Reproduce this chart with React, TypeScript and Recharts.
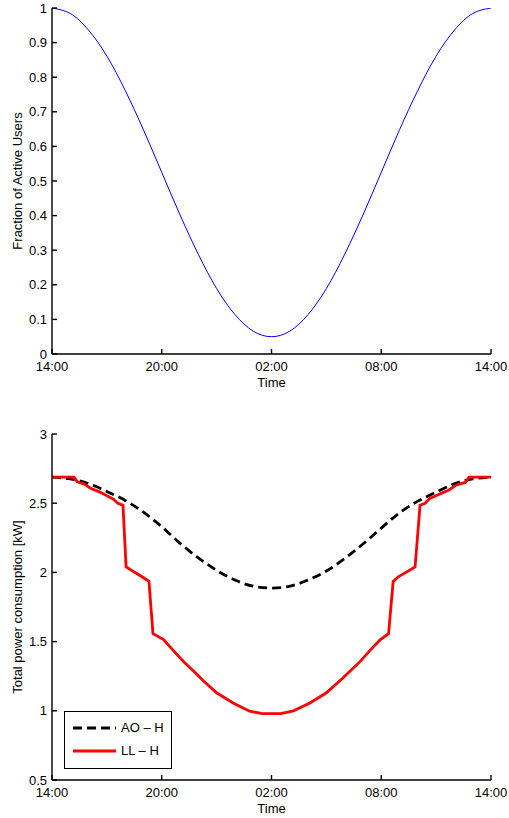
import React from 'react'
import { LineChart, Line, XAxis, YAxis, Legend } from 'recharts'

// x axis: hours since 14:00
const timeTicks = [0, 6, 12, 18, 24]
const timeLabels = ['14:00', '20:00', '02:00', '08:00', '14:00']

// top panel: fraction of active users
const userHours = [0, 1, 2, 3, 4, 5, 6, 7, 8, 9, 10, 11, 12, 13, 14, 15, 16, 17, 18, 19, 20, 21, 22, 23, 24]
const activeUsers = [
  1, 0.984, 0.936, 0.861, 0.762, 0.648, 0.525, 0.402, 0.288, 0.189, 0.114, 0.066, 0.05,
  0.066, 0.114, 0.189, 0.288, 0.402, 0.525, 0.648, 0.762, 0.861, 0.936, 0.984, 1,
]
const fractionTicks = [0, 0.1, 0.2, 0.3, 0.4, 0.5, 0.6, 0.7, 0.8, 0.9, 1]

// bottom panel: total power consumption [kW]
const aoHours = [0, 1, 2, 3, 4, 5, 6, 7, 8, 9, 10, 11, 12, 13, 14, 15, 16, 17, 18, 19, 20, 21, 22, 23, 24]
const aoPower = [
  2.688, 2.676, 2.642, 2.585, 2.52, 2.435, 2.33, 2.21, 2.105, 2.015, 1.945, 1.9, 1.887,
  1.9, 1.945, 2.01, 2.1, 2.205, 2.32, 2.43, 2.515, 2.58, 2.64, 2.675, 2.688,
]
const llHours = [
  0, 1.2, 1.38, 1.75, 2.08, 2.62, 3.35, 3.6, 3.88, 4.05, 4.9, 5.3, 5.52, 6.1, 6.6, 7.2,
  7.75, 8.3, 9.0, 9.9, 10.8, 11.5, 12.5, 13.2, 14.1, 15.0, 15.9, 16.85, 17.55, 17.95,
  18.4, 18.65, 18.95, 19.85, 20.12, 20.4, 20.65, 21.7, 22.1, 22.6, 22.8, 24,
]
const llPower = [
  2.688, 2.688, 2.655, 2.64, 2.61, 2.58, 2.53, 2.5, 2.485, 2.04, 1.97, 1.935, 1.557, 1.515,
  1.44, 1.355, 1.285, 1.213, 1.13, 1.057, 0.997, 0.98, 0.98, 1.0, 1.057, 1.13, 1.237,
  1.357, 1.46, 1.514, 1.557, 1.935, 1.97, 2.04, 2.485, 2.5, 2.535, 2.596, 2.632, 2.65,
  2.688, 2.688,
]
const powerTicks = [0.5, 1, 1.5, 2, 2.5, 3]

const seriesNames = ['AO – H', 'LL – H']
const seriesColors = ['#000000', '#ff0000']
const seriesDash = ['9 5', undefined]

const userData = userHours.map((t, i) => ({ t, v: activeUsers[i] }))
const aoData = aoHours.map((t, i) => ({ t, v: aoPower[i] }))
const llData = llHours.map((t, i) => ({ t, v: llPower[i] }))

const FONT = '"Liberation Sans", Arial, Helvetica, sans-serif'
const W = 509
const H = 392
const MARGIN = { top: 8, right: 18, bottom: 0, left: 0 }
const tickStyle = { fill: '#000', fontSize: 13, fontFamily: FONT }
const axisStroke = { stroke: '#000', strokeWidth: 1.4 }

const yTitle = (text: string) => (props: any) => {
  const vb = props.viewBox || { x: 0, y: 8, width: 52, height: 346 }
  const cx = vb.x + 17
  const cy = vb.y + vb.height / 2
  return (
    <text
      x={cx}
      y={cy}
      transform={`rotate(-90 ${cx} ${cy})`}
      textAnchor="middle"
      dominantBaseline="central"
      fontSize={13}
      fontFamily={FONT}
      fill="#000"
    >
      {text}
    </text>
  )
}

const xTitle = (props: any) => {
  const vb = props.viewBox || { x: 52, y: 354, width: 439, height: 38 }
  return (
    <text
      x={vb.x + vb.width / 2}
      y={vb.y + 33}
      textAnchor="middle"
      fontSize={13}
      fontFamily={FONT}
      fill="#000"
    >
      Time
    </text>
  )
}

// matlab style box with inward ticks on all four sides
function renderAxes(yDomain: number[], yTicks: number[], title: string) {
  return [
    <XAxis
      key="xb"
      dataKey="t"
      type="number"
      domain={[0, 24]}
      ticks={timeTicks}
      tickFormatter={(v: number) => timeLabels[timeTicks.indexOf(v)]}
      height={38}
      tickSize={-5}
      tickMargin={13}
      tick={tickStyle}
      axisLine={axisStroke}
      tickLine={axisStroke}
      allowDataOverflow
      label={{ content: xTitle }}
    />,
    <XAxis
      key="xt"
      xAxisId="top"
      orientation="top"
      dataKey="t"
      type="number"
      domain={[0, 24]}
      ticks={timeTicks}
      tickFormatter={() => ''}
      height={0}
      tickSize={-5}
      axisLine={axisStroke}
      tickLine={axisStroke}
    />,
    <YAxis
      key="yl"
      type="number"
      domain={yDomain}
      ticks={yTicks}
      width={52}
      tickSize={-5}
      tickMargin={10}
      tick={tickStyle}
      axisLine={axisStroke}
      tickLine={axisStroke}
      allowDataOverflow
      label={{ content: yTitle(title) }}
    />,
    <YAxis
      key="yr"
      yAxisId="right"
      orientation="right"
      type="number"
      domain={yDomain}
      ticks={yTicks}
      tickFormatter={() => ''}
      width={0}
      tickSize={-5}
      axisLine={axisStroke}
      tickLine={axisStroke}
    />,
  ]
}

function PowerLegend({ payload }: any) {
  const items = payload && payload.length ? payload : seriesNames.map((n, i) => ({ value: n, color: seriesColors[i] }))
  return (
    <div
      style={{
        width: 106,
        height: 52,
        border: '1.4px solid #000',
        background: '#fff',
        paddingTop: 4,
        boxSizing: 'content-box',
        fontFamily: FONT,
        fontSize: 13,
        color: '#000',
      }}
    >
      {items.map((entry: any, index: number) => {
        const i = seriesNames.indexOf(entry.value)
        return (
          <div key={`legend-${index}`} style={{ display: 'flex', alignItems: 'center', height: 23 }}>
            <svg width={56} height={10} style={{ display: 'block' }}>
              <line
                x1={8}
                x2={51}
                y1={5}
                y2={5}
                stroke={seriesColors[i] || entry.color}
                strokeWidth={2.8}
                strokeDasharray={seriesDash[i]}
              />
            </svg>
            <span style={{ lineHeight: '23px' }}>{entry.value}</span>
          </div>
        )
      })}
    </div>
  )
}

export default function App() {
  return (
    <div style={{ position: 'absolute', left: 0, top: 0, width: W, height: 818, background: '#fff' }}>
      <div style={{ position: 'absolute', left: 0, top: 0 }}>
        <LineChart width={W} height={H} margin={MARGIN}>
          {renderAxes([0, 1], fractionTicks, 'Fraction of Active Users')}
          <Line
            data={userData}
            dataKey="v"
            type="natural"
            stroke="#0000ff"
            strokeWidth={1}
            dot={false}
            activeDot={false}
            isAnimationActive={false}
          />
        </LineChart>
      </div>
      <div style={{ position: 'absolute', left: 0, top: 426 }}>
        <LineChart width={W} height={H} margin={MARGIN}>
          {renderAxes([0.5, 3], powerTicks, 'Total power consumption [kW]')}
          <Line
            data={aoData}
            dataKey="v"
            name={seriesNames[0]}
            type="natural"
            stroke={seriesColors[0]}
            strokeWidth={2.8}
            strokeDasharray={seriesDash[0]}
            dot={false}
            activeDot={false}
            isAnimationActive={false}
          />
          <Line
            data={llData}
            dataKey="v"
            name={seriesNames[1]}
            type="linear"
            stroke={seriesColors[1]}
            strokeWidth={2.8}
            dot={false}
            activeDot={false}
            isAnimationActive={false}
          />
          <Legend
            layout="vertical"
            align="center"
            verticalAlign="middle"
            content={<PowerLegend />}
            wrapperStyle={{ position: 'absolute', left: 64, top: 285, width: 108, height: 57 }}
          />
        </LineChart>
      </div>
    </div>
  )
}
